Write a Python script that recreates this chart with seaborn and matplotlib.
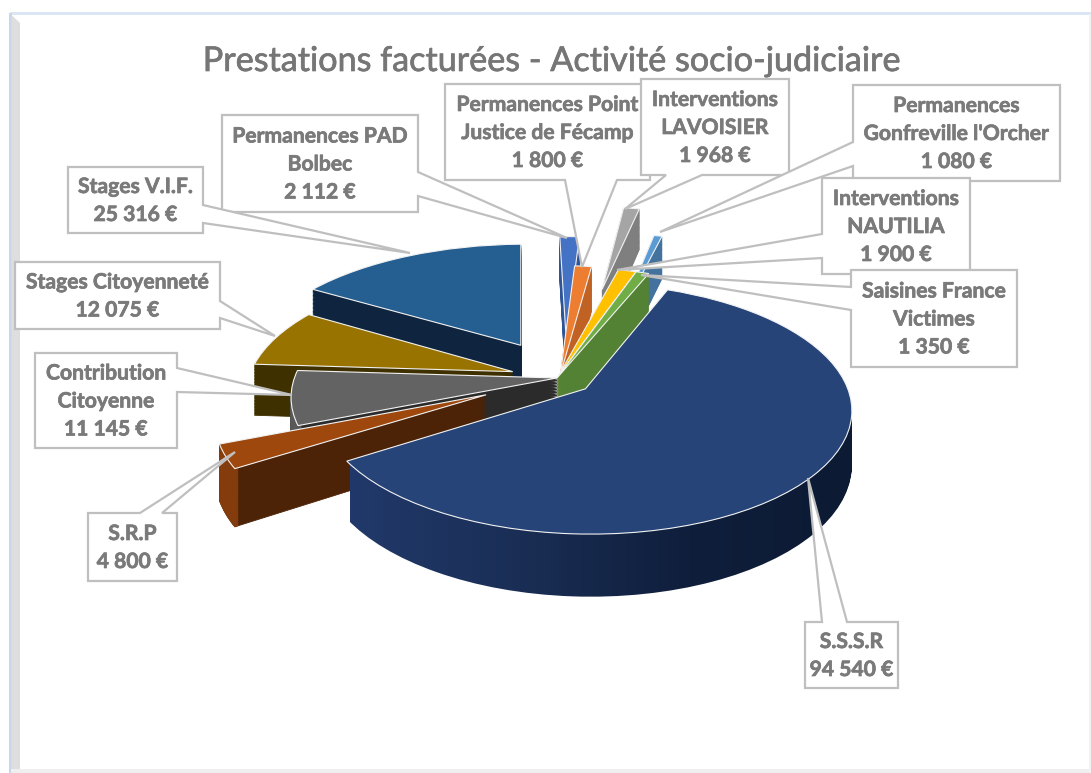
import numpy as np
import seaborn as sns
import matplotlib
matplotlib.use('Agg')
import matplotlib.pyplot as plt
import matplotlib.patheffects as pe
from matplotlib.path import Path
from matplotlib.patches import Polygon, Rectangle
from matplotlib.transforms import Transform

sns.set_theme(style='white')
plt.rcParams['font.family'] = ['Lato', 'DejaVu Sans']

title = 'Prestations facturées - Activité socio-judiciaire'

categories = ['S.S.S.R', 'S.R.P', 'Contribution\nCitoyenne', 'Stages Citoyenneté',
              'Stages V.I.F.', 'Permanences PAD\nBolbec',
              'Permanences Point\nJustice de Fécamp', 'Interventions\nLAVOISIER',
              "Permanences\nGonfreville l'Orcher", 'Interventions\nNAUTILIA',
              'Saisines France\nVictimes']
values = [94540, 4800, 11145, 12075, 25316, 2112, 1800, 1968, 1080, 1900, 1350]

# pulled out distance of each slice, in pie radius
explode = [0.14, 0.30, 0.0, 0.18, 0.33, 0.35, 0.03, 0.85, 0.60, 0.02, 0.0]
slice_radius = [0.995, 1.0, 1.01, 1.015, 1.07, 1.1, 1.07, 1.0, 0.9, 1.07, 1.09]
nudge_x = [0, 0, 0, 0, 0.02, 0.03, 0.01, 0.05, 0.13, 0, 0]

top_colors = ['#264478', '#9e480e', '#636363', '#997300', '#255e91', '#4472c4',
              '#ed7d31', '#a5a5a5', '#5b9bd5', '#ffc000', '#70ad47']
wall_colors = ['#1a2f58', '#4d2307', '#2b2b2b', '#3f3000', '#0f253f', '#2f5597',
               '#c06224', '#7f7f7f', '#43729f', '#bf9000', '#548235']
arc_colors = {1: '#843c0c', 2: '#595959'}

# painted back to front
paint_rank = [10, 9, 8, 7, 6, 2, 3, 0, 1, 4, 5]

CX, CY = 557, 378
RADIUS = 260
SQUASH = 0.46
TILT = 0.156
DEPTH = 52
TEXT_GREY = '#7a7a7a'
BOX_GREY = '#bfbfbf'


class Camera(Transform):
    # pie plane seen from the front, z lifts the plane down the screen
    input_dims = 2
    output_dims = 2
    is_separable = False

    def __init__(self, z=0):
        super().__init__()
        self.z = z

    def transform_non_affine(self, values):
        x, y = np.asarray(values).T
        w = 1 + TILT * y
        return np.column_stack([CX + RADIUS * x / w,
                                CY - (SQUASH * RADIUS * y - self.z) / w])


fig = plt.figure(figsize=(10.91, 7.73), dpi=100)
ax = fig.add_axes([0, 0, 1, 1])


def draw_layer(z, colors, level, width=None, edge=None):
    wedges, _ = ax.pie(values, explode=explode, colors=colors, startangle=68,
                       counterclock=False, radius=1)
    for i, w in enumerate(wedges):
        w.set_radius(slice_radius[i])
        w.set_center((w.center[0] + nudge_x[i], w.center[1]))
        w.set_transform(Camera(z) + ax.transData)
        w.set_zorder(2 + paint_rank[i] + level)
        w.set_edgecolor(edge if edge else colors[i])
        w.set_linewidth(0.8 if edge else 0.6)
        if width:
            w.set_width(width)
    return wedges


sss_paths = []
for z in np.arange(DEPTH, 0, -1.5):
    wedges = draw_layer(z, wall_colors, 0.1)
    sss_paths.append(Camera(z).transform_path(wedges[0].get_path()))
    wedges[0].remove()
    wedges = draw_layer(z, wall_colors, 0.2, width=0.012)
    for i, w in enumerate(wedges):
        if i in arc_colors:
            w.set_facecolor(arc_colors[i])
            w.set_edgecolor(arc_colors[i])
        else:
            w.remove()

draw_layer(0, top_colors, 0.3, edge='#f2f2f2')

# big slice wall has a left to right shade
shade = sns.blend_palette(['#21396a', '#1a2e55', '#0f1e3b', '#0c1a33'], as_cmap=True)
img = ax.imshow(np.linspace(0, 1, 256)[None, :], cmap=shade, aspect='auto',
                extent=(350, 860, 600, 380), zorder=2 + paint_rank[0] + 0.1)
img.set_clip_path(Path.make_compound_path(*sss_paths), ax.transData)

ax.set_aspect('auto')
ax.set_xlim(0, 1091)
ax.set_ylim(773, 0)
ax.axis('off')

# chart frame
ax.add_patch(Rectangle((10, 12), 1081, 2.5, color='#dce6f2', lw=0, zorder=1))
ax.add_patch(Rectangle((9, 13), 2.5, 760, color='#c9d7ec', lw=0, zorder=1))
ax.add_patch(Polygon([(11.5, 15), (20, 23), (20, 773), (11.5, 773)], color='#dedede', lw=0, zorder=1))
ax.add_patch(Rectangle((11, 769), 1080, 4, color='#efefef', lw=0, zorder=1))
ax.add_patch(Rectangle((1089, 14), 2, 759, color='#f2f2f2', lw=0, zorder=1))

bolder = [pe.withStroke(linewidth=0.5, foreground='#767676')]
ax.text(551, 61, title, ha='center', va='center', fontsize=24.6, color='#767676', zorder=15,
        path_effects=bolder)

# callouts, in category order: box (x0, y0, x1, y1), side, tail base, tail tip
callouts = {
    0: ((805, 622, 898, 688), 't', (822, 847), (808, 478)),
    1: ((88, 513, 177, 581), 't', (140, 162), (235, 452)),
    2: ((35, 353, 177, 448), 'r', (368, 392), (292, 395)),
    3: ((15, 262, 220, 329), 'r', (301, 318), (275, 336)),
    5: ((222, 115, 418, 212), 'r', (172, 196), (567, 238)),
    4: ((68, 167, 203, 233), 'r', (205, 223), (410, 253)),
    6: ((445, 84, 650, 180), 'b', (565, 617), (582, 267)),
    7: ((641, 79, 789, 175), 'b', (666, 702), (625, 209)),
    8: ((853, 85, 1060, 181), 'l', (142, 166), (660, 232)),
    9: ((822, 178, 970, 274), 'l', (234, 258), (617, 270)),
    10: ((851, 270, 1017, 367), 'l', (287, 310), (641, 275)),
}


def callout_outline(box, side, base, tip):
    x0, y0, x1, y1 = box
    a, b = base
    if side == 't':
        return [(x0, y0), (a, y0), tip, (b, y0), (x1, y0), (x1, y1), (x0, y1)]
    if side == 'b':
        return [(x0, y0), (x1, y0), (x1, y1), (b, y1), tip, (a, y1), (x0, y1)]
    if side == 'r':
        return [(x0, y0), (x1, y0), (x1, a), tip, (x1, b), (x1, y1), (x0, y1)]
    return [(x0, y0), (x1, y0), (x1, y1), (x0, y1), (x0, b), tip, (x0, a)]


label_stroke = [pe.withStroke(linewidth=0.5, foreground=TEXT_GREY)]
for n, (i, (box, side, base, tip)) in enumerate(callouts.items()):
    ax.add_patch(Polygon(callout_outline(box, side, base, tip), closed=True, fc='white',
                         ec=BOX_GREY, lw=1.6, zorder=20 + n, joinstyle='miter'))
    label = categories[i] + '\n' + f'{values[i]:,}'.replace(',', ' ') + ' €'
    ax.text((box[0] + box[2]) / 2, (box[1] + box[3]) / 2 + 1, label, ha='center', va='center',
            fontsize=15.2, fontweight='bold', color=TEXT_GREY, linespacing=1.5, zorder=20.5 + n,
            path_effects=label_stroke)

fig.savefig('out.png', dpi=100, facecolor='white')
